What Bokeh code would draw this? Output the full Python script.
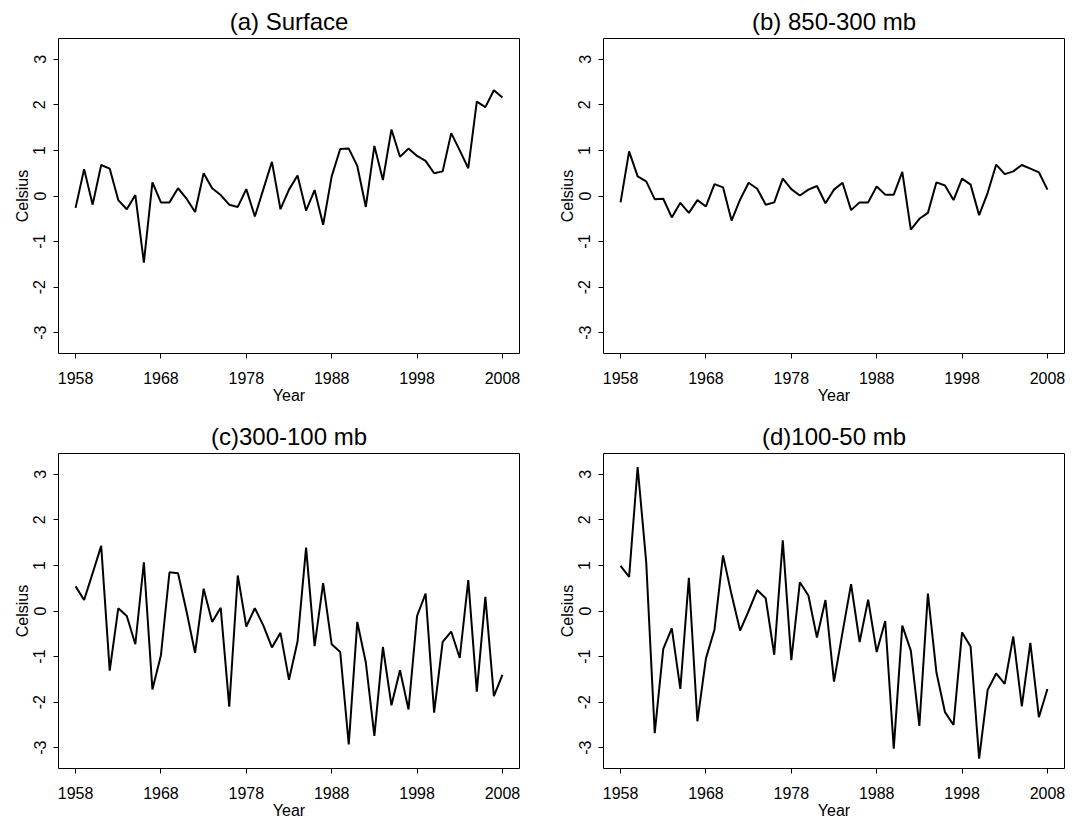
from bokeh.plotting import figure
from bokeh.models import Range1d, FixedTicker, PrintfTickFormatter
from bokeh.layouts import gridplot
from bokeh.embed import file_html
from bokeh.resources import INLINE

years = list(range(1958, 2009))

surface = [-0.26, 0.59, -0.19, 0.68, 0.60, -0.09, -0.29, 0.02, -1.46, 0.30,
           -0.14, -0.14, 0.17, -0.06, -0.35, 0.50, 0.17, 0.02, -0.19, -0.24,
           0.15, -0.45, 0.15, 0.75, -0.29, 0.14, 0.45, -0.32, 0.13, -0.63,
           0.43, 1.03, 1.04, 0.66, -0.24, 1.10, 0.35, 1.46, 0.86, 1.04,
           0.88, 0.77, 0.50, 0.54, 1.38, 1.00, 0.61, 2.07, 1.95, 2.32, 2.16]

mb850_300 = [-0.14, 0.98, 0.43, 0.32, -0.07, -0.06, -0.47, -0.15, -0.37, -0.09,
             -0.23, 0.26, 0.19, -0.54, -0.08, 0.29, 0.16, -0.19, -0.14, 0.38,
             0.15, 0.01, 0.14, 0.22, -0.16, 0.14, 0.29, -0.31, -0.14, -0.14,
             0.21, 0.03, 0.03, 0.53, -0.74, -0.50, -0.37, 0.30, 0.23, -0.09,
             0.38, 0.25, -0.42, 0.07, 0.69, 0.48, 0.54, 0.68, 0.60, 0.52, 0.14]

mb300_100 = [0.54, 0.24, 0.83, 1.43, -1.31, 0.06, -0.11, -0.73, 1.07, -1.72,
             -0.97, 0.85, 0.83, -0.01, -0.92, 0.49, -0.24, 0.07, -2.10, 0.78,
             -0.34, 0.06, -0.32, -0.80, -0.48, -1.51, -0.67, 1.39, -0.77, 0.61,
             -0.73, -0.90, -2.93, -0.24, -1.13, -2.74, -0.79, -2.07, -1.30, -2.16,
             -0.11, 0.38, -2.23, -0.68, -0.45, -1.03, 0.68, -1.77, 0.31, -1.87, -1.40]

mb100_50 = [0.99, 0.75, 3.16, 1.08, -2.68, -0.83, -0.38, -1.71, 0.73, -2.42,
            -1.04, -0.41, 1.22, 0.36, -0.43, 0.00, 0.46, 0.28, -0.96, 1.55,
            -1.08, 0.63, 0.34, -0.58, 0.24, -1.55, -0.47, 0.59, -0.68, 0.25,
            -0.90, -0.22, -3.02, -0.32, -0.87, -2.52, 0.38, -1.35, -2.22, -2.50,
            -0.47, -0.78, -3.24, -1.73, -1.37, -1.60, -0.56, -2.09, -0.70, -2.33, -1.71]

titles = ["(a) Surface", "(b) 850-300 mb", "(c)300-100 mb", "(d)100-50 mb"]
x_ticks = [1958, 1968, 1978, 1988, 1998, 2008]
y_ticks = [-3, -2, -1, 0, 1, 2, 3]
x_label = "Year"
y_label = "Celsius"

FONT = "Liberation Sans"
X_START, X_END = 1956, 2010
Y_START, Y_END = -3.456, 3.456


def make_panel(title, values, width, height, left, right, top, bottom):
    p = figure(width=width, height=height, output_backend="svg",
               toolbar_location=None, tools="",
               x_range=Range1d(X_START, X_END), y_range=Range1d(Y_START, Y_END),
               min_border_left=left, min_border_right=right,
               min_border_top=top, min_border_bottom=bottom,
               title=title)
    p.background_fill_color = "white"
    p.border_fill_color = "white"
    p.outline_line_color = "black"
    p.outline_line_width = 1
    p.outline_line_alpha = 1
    p.grid.visible = False

    p.title.align = "center"
    p.title.text_font = FONT
    p.title.text_font_size = "24px"
    p.title.text_font_style = "normal"
    p.title.text_color = "black"
    p.title.standoff = 7

    p.line(years, values, line_color="black", line_width=2)

    p.xaxis.ticker = FixedTicker(ticks=x_ticks)
    p.yaxis.ticker = FixedTicker(ticks=y_ticks)
    p.yaxis.formatter = PrintfTickFormatter(format="%d")
    for ax in (p.xaxis, p.yaxis):
        ax.axis_line_color = None
        ax.major_tick_in = 0
        ax.major_tick_out = 5
        ax.major_tick_line_color = "black"
        ax.major_tick_line_width = 1
        ax.minor_tick_line_color = None
        ax.major_label_text_font = FONT
        ax.major_label_text_font_size = "16px"
        ax.major_label_text_color = "black"
        ax.axis_label_text_font = FONT
        ax.axis_label_text_font_size = "16px"
        ax.axis_label_text_font_style = "normal"
        ax.axis_label_text_color = "black"
    p.xaxis.axis_label = x_label
    p.yaxis.axis_label = y_label
    p.xaxis.major_label_standoff = 13
    p.xaxis.axis_label_standoff = 0
    p.yaxis.major_label_standoff = 8
    p.yaxis.axis_label_standoff = 0
    p.yaxis.major_label_orientation = "vertical"
    return p


H1, H2 = 415, 407
WA, WB = 545, 520
pa = make_panel(titles[0], surface, WA, H1, 58, 26, 38, 62)
pb = make_panel(titles[1], mb850_300, WB, H1, 58, 1, 38, 62)
pc = make_panel(titles[2], mb300_100, WA, H2, 58, 26, 38, 54)
pd = make_panel(titles[3], mb100_50, WB, H2, 58, 1, 38, 54)

grid = gridplot([[pa, pb], [pc, pd]], toolbar_location=None)

open("out.html", "w").write(file_html(grid, INLINE))
